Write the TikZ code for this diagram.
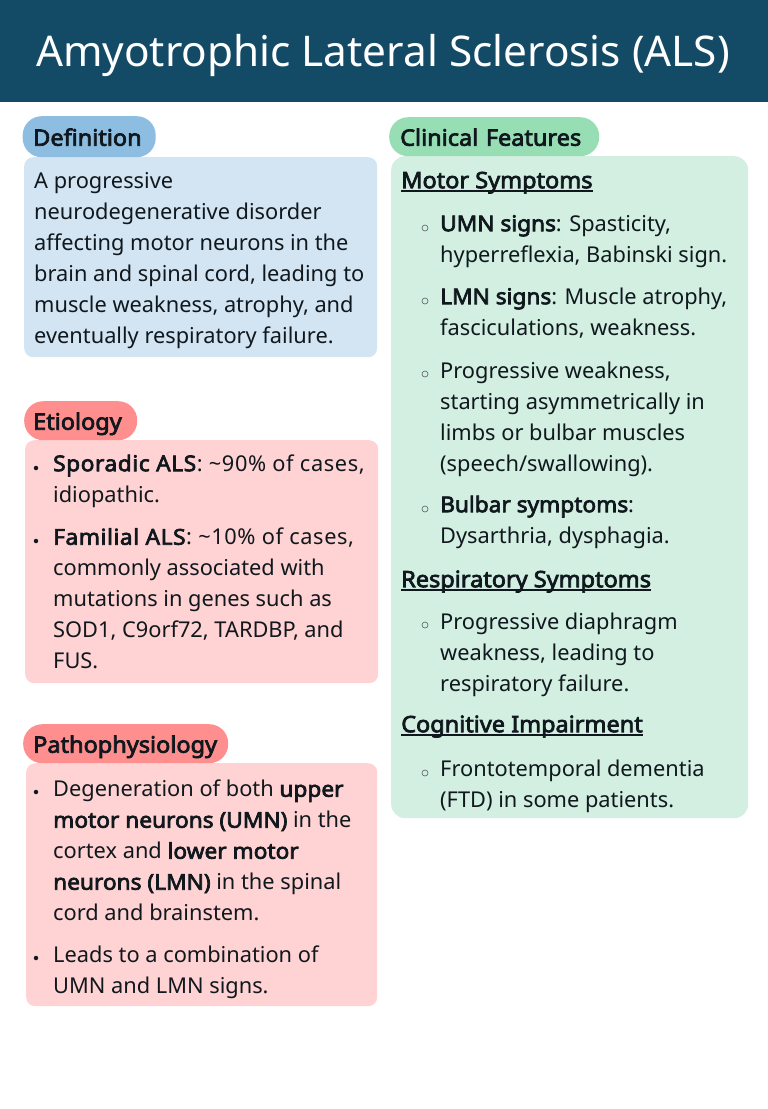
\documentclass[tikz,border=0pt]{standalone}
\usepackage{fontspec}
\setmainfont{Noto Sans}[BoldFont={Noto Sans},BoldFeatures={FakeBold=3.2,FakeStretch=1.04}]
\usepackage{tikz}
\definecolor{headerblue}{HTML}{134A66}
\definecolor{defpill}{HTML}{8DBDE0}
\definecolor{defbox}{HTML}{D3E5F3}
\definecolor{redpill}{HTML}{FF8E8E}
\definecolor{redbox}{HTML}{FFD3D3}
\definecolor{greenpill}{HTML}{97DEB5}
\definecolor{greenbox}{HTML}{D2EFE1}
\definecolor{inktext}{HTML}{10181E}
\newcommand{\firstline}{\rule{0pt}{20pt}}
\newcommand{\ulhead}[1]{\setbox0\hbox{#1}\rlap{\rule[-3.5pt]{\wd0}{1.3pt}}#1}
\newcommand{\widerun}[1]{{\addfontfeature{LetterSpace=2.7}#1}}
\tikzset{
    x=1pt, y=-1pt,
    pill/.style={anchor=north west, rounded corners=19pt, inner sep=0pt, text height=23pt, text depth=5pt, text=inktext, align=left, font=\fontsize{22.6}{26}\selectfont\bfseries},
    bodybox/.style={anchor=north west, rounded corners=9pt, inner sep=0pt},
    bodytext/.style={anchor=north west, inner sep=0pt, align=left, text=inktext, font=\fontsize{21.8}{31}\selectfont},
    headtext/.style={bodytext, font=\fontsize{22.6}{31}\selectfont\bfseries},
    dotmark/.style={circle, fill=inktext, inner sep=0pt, minimum size=4.5pt},
    ringmark/.style={circle, draw=inktext!70, line width=0.6pt, inner sep=0pt, minimum size=6pt},
}

\begin{document}
\begin{tikzpicture}
\useasboundingbox (0,0) rectangle (768,1109);

% header band
\fill[headerblue] (0,0) rectangle (768,102);
\node[anchor=base, inner sep=0pt, text=white, font=\fontsize{42.3}{48}\selectfont] (title) at (383,66) {Amyotrophic Lateral Sclerosis (ALS)};

% definition
\node[bodybox, fill=defbox, minimum width=353pt, minimum height=200pt] (defbody) at (24,157) {};
\node[pill, fill=defpill, minimum width=133pt, minimum height=41pt, text width=112pt] (defhead) at (22.5,116) {Definition};
\node[bodytext] (deftext) at (34,168) {\firstline A progressive\\neurodegenerative disorder\\affecting motor neurons in the\\brain and spinal cord, leading to\\muscle weakness, atrophy, and\\eventually respiratory failure.};

% etiology
\node[bodybox, fill=redbox, minimum width=353pt, minimum height=243pt] (etibody) at (25,440) {};
\node[pill, fill=redpill, minimum width=113pt, minimum height=39pt, text width=95pt] (etihead) at (24,401) {Etiology};
\node[dotmark] (etidota) at (36,468) {};
\node[bodytext] (etitexta) at (53,451) {\firstline\widerun{\textbf{Sporadic ALS}: \textasciitilde90\% of cases,}\\idiopathic.};
\node[dotmark] (etidotb) at (36,541) {};
\node[bodytext] (etitextb) at (53,524.5) {\firstline\widerun{\textbf{Familial ALS}: \textasciitilde10\% of cases,}\\commonly associated with\\mutations in genes such as\\SOD1, C9orf72, TARDBP, and\\FUS.};

% pathophysiology
\node[bodybox, fill=redbox, minimum width=351pt, minimum height=243pt] (patbody) at (26,763) {};
\node[pill, fill=redpill, minimum width=205pt, minimum height=39pt, text width=185pt] (pathead) at (23,724) {Pathophysiology};
\node[dotmark] (patdota) at (36,792) {};
\node[bodytext] (pattexta) at (53,776.5) {\firstline Degeneration of both \textbf{upper}\\\textbf{motor neurons (UMN)} in the\\cortex and \textbf{lower motor}\\\textbf{neurons (LMN)} in the spinal\\cord and brainstem.};
\node[dotmark] (patdotb) at (36,958) {};
\node[bodytext] (pattextb) at (53,942.5) {\firstline Leads to a combination of\\UMN and LMN signs.};

% clinical features
\node[bodybox, rounded corners=14pt, fill=greenbox, minimum width=357pt, minimum height=662pt] (clibody) at (391,156) {};
\node[pill, fill=greenpill, minimum width=210pt, minimum height=39pt, text width=188pt] (clihead) at (389,117) {Clinical Features};

\node[headtext] (motorhead) at (401,168) {\firstline\ulhead{Motor Symptoms}};
\node[ringmark] (ringa) at (425,228) {};
\node[bodytext] (umntext) at (440,211) {\firstline\textbf{UMN signs}: Spasticity,\\hyperreflexia, Babinski sign.};
\node[ringmark] (ringb) at (425,301) {};
\node[bodytext] (lmntext) at (440,284) {\firstline\textbf{LMN signs}: Muscle atrophy,\\fasciculations, weakness.};
\node[ringmark] (ringc) at (425,374) {};
\node[bodytext] (progtext) at (440,358) {\firstline Progressive weakness,\\starting asymmetrically in\\limbs or bulbar muscles\\(speech/swallowing).};
\node[ringmark] (ringd) at (425,509) {};
\node[bodytext] (bulbtext) at (440,492) {\firstline\textbf{Bulbar symptoms}:\\Dysarthria, dysphagia.};

\node[headtext] (resphead) at (401,567) {\firstline\ulhead{Respiratory Symptoms}};
\node[ringmark] (ringe) at (425,625) {};
\node[bodytext] (resptext) at (440,609) {\firstline Progressive diaphragm\\weakness, leading to\\respiratory failure.};

\node[headtext] (coghead) at (401,712) {\firstline\ulhead{Cognitive Impairment}};
\node[ringmark] (ringf) at (425,773) {};
\node[bodytext] (cogtext) at (440,756) {\firstline Frontotemporal dementia\\(FTD) in some patients.};
\end{tikzpicture}
\end{document}
